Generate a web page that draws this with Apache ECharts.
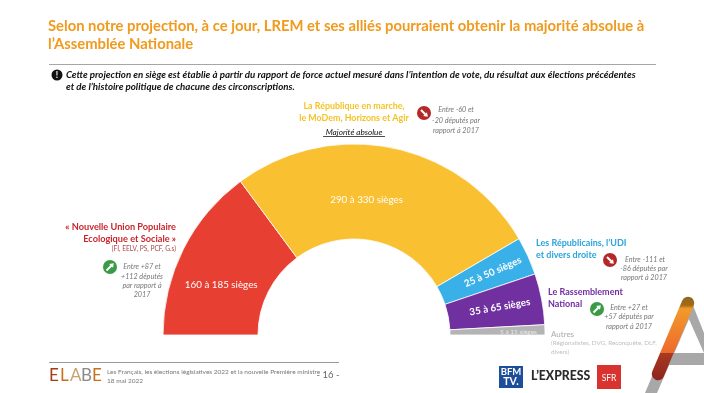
<!DOCTYPE html>
<html><head><meta charset="utf-8">
<style>html,body{margin:0;padding:0;background:#fff}#c{width:704px;height:393px}</style>
<script src="https://cdn.jsdelivr.net/npm/echarts@6/dist/echarts.min.js"></script>
</head><body><div id="c"></div>
<script>
var FONT = 'Lato, Carlito, "Open Sans", sans-serif';
var categories = ['NUPES', 'LREM', 'LR', 'RN', 'Autres'];
var seatMidpoints = [172.5, 310, 37.5, 50, 10];
var seatLabels = ['160 à 185 sièges', '290 à 330 sièges', '25 à 50 sièges', '35 à 65 sièges', '5 à 15 sièges'];
var sliceColors = ['#e83f33', '#f9c031', '#3ab0e8', '#7030a0', '#b4b4b4'];
var labelSizes = [9.8, 9.8, 9.8, 9.8, 6.5];
var labelRotations = [0, 0, 24, 10, 0];
var labelOffsets = [[-2, 16], [-17, 8], [6, 0], [2, 0], [18, 1]];
var titleLines = ['Selon notre projection, à ce jour, LREM et ses alliés pourraient obtenir la majorité absolue à', 'l’Assemblée Nationale'];
var noteLines = ['Cette projection en siège est établie à partir du rapport de force actuel mesuré dans l’intention de vote, du résultat aux élections précédentes', 'et de l’histoire politique de chacune des circonscriptions.'];

function txt(x, y, text, size, color, o) {
  o = o || {};
  return { type: 'text', x: x, y: y, silent: true, z: 20, style: {
    text: text, fontFamily: FONT, fontSize: size, fill: color,
    fontWeight: o.weight || (o.bold ? 'bold' : 'normal'), fontStyle: o.italic ? 'italic' : 'normal',
    align: o.align || 'left', verticalAlign: 'middle' } };
}
function badge(x, y, up) {
  var col = up ? '#3a9b46' : '#b5282a';
  var rot = up ? [[-3.5,3.5],[2,-2]] : [[-3,-3],[2.5,2.5]];
  var head = up ? [[3.8,-3.8],[-0.8,-3],[3,0.8]] : [[3.8,3.8],[-0.8,3],[3,-0.8]];
  return { type: 'group', x: x, y: y, z: 20, silent: true, children: [
    { type: 'circle', shape: { cx: 0, cy: 0, r: 7 }, style: { fill: col } },
    { type: 'line', shape: { x1: rot[0][0], y1: rot[0][1], x2: rot[1][0], y2: rot[1][1] }, style: { stroke: '#fff', lineWidth: 2 } },
    { type: 'polygon', shape: { points: head }, style: { fill: '#fff' } }
  ]};
}
var G = '#777777';
var I = { italic: true, align: 'center' };
var graphics = [
  txt(48, 26, titleLines[0], 14.8, '#f09a1e', { bold: true }),
  txt(48, 44, titleLines[1], 14.8, '#f09a1e', { bold: true }),
  { type: 'rect', shape: { x: 49, y: 64, width: 607, height: 1 }, style: { fill: '#a6a6a6' }, silent: true },
  { type: 'circle', shape: { cx: 57, cy: 75, r: 5.5 }, style: { fill: '#111' }, silent: true },
  txt(57, 75, '!', 8.5, '#fff', { bold: true, align: 'center' }),
  txt(66, 75, noteLines[0], 9.72, '#111', { bold: true, italic: true }),
  txt(66, 87, noteLines[1], 9.72, '#111', { bold: true, italic: true }),

  txt(354, 106, 'La République en marche,', 8.9, '#f5c325', { bold: true, align: 'center' }),
  txt(354, 118, 'le MoDem, Horizons et Agir', 8.9, '#f5c325', { bold: true, align: 'center' }),
  txt(354, 132, 'Majorité absolue', 8.2, '#111', I),
  { type: 'rect', shape: { x: 323, y: 136, width: 62, height: 0.8 }, style: { fill: '#111' }, silent: true },
  badge(424, 113, false),
  txt(456, 110, 'Entre -60 et', 7.2, G, I),
  txt(456, 121, '-20 députés par', 7.2, G, I),
  txt(456, 131, 'rapport à 2017', 7.2, G, I),

  txt(176, 227, '« Nouvelle Union Populaire', 9.2, '#c9252c', { bold: true, align: 'right' }),
  txt(176, 239, 'Ecologique et Sociale »', 9.2, '#c9252c', { bold: true, align: 'right' }),
  txt(176, 249, '(FI, EELV, PS, PCF, G.s)', 6.6, '#a8474a', { align: 'right' }),
  badge(110, 267, true),
  txt(142, 267, 'Entre +87 et', 7.2, G, I),
  txt(142, 277, '+112 députés', 7.2, G, I),
  txt(142, 286, 'par rapport à', 7.2, G, I),
  txt(142, 295, '2017', 7.2, G, I),

  txt(536, 243, 'Les Républicains, l’UDI', 9, '#2aa5dc', { bold: true }),
  txt(536, 255, 'et divers droite', 9, '#2aa5dc', { bold: true }),
  badge(610, 260, false),
  txt(645, 260, 'Entre -111 et', 7.2, G, I),
  txt(644, 269, '-86 députés par', 7.2, G, I),
  txt(644, 278, 'rapport à 2017', 7.2, G, I),

  txt(548, 292, 'Le Rassemblement', 9, '#6f2f9f', { bold: true }),
  txt(548, 304, 'National', 9, '#6f2f9f', { bold: true }),
  badge(597, 309, true),
  txt(629, 308, 'Entre +27 et', 7.2, G, I),
  txt(629, 317, '+57 députés par', 7.2, G, I),
  txt(629, 327, 'rapport à 2017', 7.2, G, I),

  txt(551, 334, 'Autres', 8, '#aaaaaa'),
  txt(551, 343, '(Régionalistes, DVG, Reconquête, DLF,', 6.3, '#c0c0c0'),
  txt(551, 352, 'divers)', 6.3, '#c0c0c0'),

  /* large A mark */
  { type: 'polygon', silent: true, z: 5, shape: { points: [[645,393],[657,393],[692,312],[685,298]] }, style: { fill: '#a8a8a8' } },
  { type: 'polygon', silent: true, z: 5, shape: { points: [[690,298],[704,333],[704,353],[688,317]] }, style: { fill: '#a8a8a8' } },
  { type: 'polygon', silent: true, z: 5, shape: { points: [[668,353],[704,353],[704,365],[668,365]] }, style: { fill: '#a8a8a8' } },
  { type: 'line', silent: true, z: 6, shape: { x1: 688, y1: 303, x2: 658, y2: 374 },
    style: { lineWidth: 12.5, lineCap: 'round', stroke: { type: 'linear', global: true, x: 0, y: 297, x2: 0, y2: 380,
      colorStops: [{ offset: 0, color: '#94651a' }, { offset: 0.1, color: '#a06d18' }, { offset: 0.14, color: '#f29a2c' }, { offset: 0.67, color: '#ee6a2c' }, { offset: 0.68, color: '#a83a22' }, { offset: 1, color: '#8e231c' }] } } },

  /* footer */
  { type: 'rect', shape: { x: 49, y: 362, width: 290, height: 1 }, style: { fill: '#999' }, silent: true },
  txt(49, 376, 'E', 17, '#a83a1a'), txt(60, 376, 'L', 17, '#c9701f'), txt(70, 376, 'A', 17, '#c8a272'),
  txt(81, 376, 'B', 17, '#8a8a8a'), txt(92, 376, 'E', 17, '#c9701f'),
  txt(107, 372, 'Les Français, les élections législatives 2022 et la nouvelle Première ministre', 6.5, '#777'),
  txt(107, 381, '18 mai 2022', 6.5, '#777'),
  txt(328, 375, '- 16 -', 9.5, '#666', { align: 'center' }),

  /* partner marks */
  { type: 'rect', silent: true, shape: { x: 499, y: 366, width: 24, height: 22 }, style: { fill: '#1c4e9a' } },
  txt(511, 372, 'BFM', 9.5, '#fff', { bold: true, align: 'center' }),
  txt(511, 382, 'TV.', 10.5, '#fff', { bold: true, align: 'center' }),
  txt(531, 376, 'L’EXPRESS', 12.2, '#2b2b2b', { weight: 900 }),
  { type: 'rect', silent: true, shape: { x: 597, y: 365, width: 24, height: 24 }, style: { fill: '#d9332f' } },
  txt(609, 378, 'SFR', 8.5, '#fff', { align: 'center' })
];

var data = categories.map(function (n, i) {
  return { name: n, value: seatMidpoints[i], itemStyle: { color: sliceColors[i] },
    label: { formatter: seatLabels[i], fontSize: labelSizes[i], rotate: labelRotations[i], offset: labelOffsets[i],
      color: i === 4 ? '#e8e8e8' : '#fff', fontWeight: (i === 2 || i === 3) ? 'bold' : 'normal' } };
});

var chart = echarts.init(document.getElementById('c'), null, { renderer: 'canvas' });
chart.setOption({
  animation: false,
  backgroundColor: '#fff',
  series: [{
    type: 'pie', center: [354, 335], radius: [96, 191], startAngle: 180, endAngle: 0,
    clockwise: true, avoidLabelOverlap: false, silent: true,
    itemStyle: { borderColor: '#fff', borderWidth: 0.8 },
    label: { show: true, position: 'inside', fontFamily: FONT },
    labelLine: { show: false },
    data: data
  }],
  graphic: { elements: graphics }
});
</script></body></html>
